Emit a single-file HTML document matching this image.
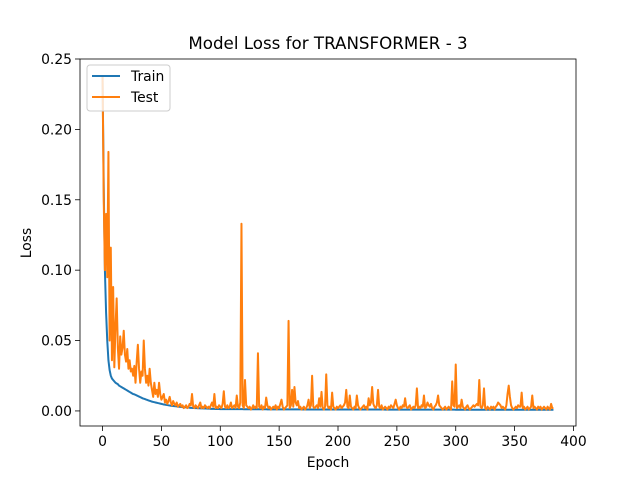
<!DOCTYPE html>
<html><head><meta charset="utf-8"><style>
body{margin:0;background:#fff;}
svg text{font-family:"DejaVu Sans","Liberation Sans",sans-serif;}
</style></head><body>
<svg id="chart" width="640" height="480" xmlns="http://www.w3.org/2000/svg"></svg>
<script>
const xTicks=[0,50,100,150,200,250,300,350,400];
const yTicks=[0.00,0.05,0.10,0.15,0.20,0.25];
const yTickLabels=["0.00","0.05","0.10","0.15","0.20","0.25"];
const trainLoss=[
.238,.16,.10,.07,.05,.036,.029,.025,.023,.022,
.021,.020,.0195,.019,.018,.0175,.017,.0165,.016,.0155,
.015,.0145,.014,.0135,.013,.0125,.012,.0118,.0114,.011,
.0106,.0102,.0098,.0094,.009,.0087,.0084,.0081,.0078,.0075,
.0072,.0069,.0066,.0064,.0062,.006,.0058,.0056,.0054,.0052,
.005,.0048,.0046,.0045,.0043,.0042,.004,.0039,.0037,.0036,
.0035,.0034,.0033,.0032,.0031,.003,.0029,.0028,.0027,.0026,
.0026,.0025,.0024,.0024,.0023,.0022,.0022,.0021,.0021,.002,
.002,.0019,.0019,.0018,.0018,.0018,.0017,.0017,.0017,.0016,
.0016,.0016,.0015,.0015,.0015,.0015,.0014,.0014,.0014,.0014,
.0013,.0013,.0013,.0013,.0013,.0013,.0013,.0013,.0013,.0013,.0013,.0013,.0013,.0013,.0013,.0013,.0013,.0013,.0013,.0013,
.0012,.0012,.0012,.0012,.0012,.0012,.0012,.0012,.0012,.0012,.0012,.0012,.0012,.0012,.0012,.0012,.0012,.0012,.0012,.0012,
.0011,.0011,.0011,.0011,.0011,.0011,.0011,.0011,.0011,.0011,.0011,.0011,.0011,.0011,.0011,.0011,.0011,.0011,.0011,.0011,
.0011,.0011,.0011,.0011,.0011,.0011,.0011,.0011,.0011,.0011,.001,.001,.001,.001,.001,.001,.001,.001,.001,.001,
.001,.001,.001,.001,.001,.001,.001,.001,.001,.001,.001,.001,.001,.001,.001,.001,.001,.001,.001,.001,
.001,.001,.001,.001,.001,.001,.001,.001,.001,.001,.001,.001,.001,.001,.001,.001,.001,.001,.001,.001,
.001,.001,.001,.001,.001,.001,.001,.001,.001,.001,.001,.001,.001,.001,.001,.001,.001,.001,.001,.001,
.0009,.0009,.0009,.0009,.0009,.0009,.0009,.0009,.0009,.0009,.0009,.0009,.0009,.0009,.0009,.0009,.0009,.0009,.0009,.0009,
.0009,.0009,.0009,.0009,.0009,.0009,.0009,.0009,.0009,.0009,.0009,.0009,.0009,.0009,.0009,.0009,.0009,.0009,.0009,.0009,
.0009,.0009,.0009,.0009,.0009,.0009,.0009,.0009,.0009,.0009,.0009,.0009,.0009,.0009,.0009,.0009,.0009,.0009,.0009,.0009,
.0008,.0008,.0008,.0008,.0008,.0008,.0008,.0008,.0008,.0008,.0008,.0008,.0008,.0008,.0008,.0008,.0008,.0008,.0008,.0008,
.0008,.0008,.0008,.0008,.0008,.0008,.0008,.0008,.0008,.0008,.0008,.0008,.0008,.0008,.0008,.0008,.0008,.0008,.0008,.0008,
.0008,.0008,.0008,.0008,.0008,.0008,.0008,.0008,.0008,.0008,.0008,.0008,.0008,.0008,.0008,.0008,.0008,.0008,.0008,.0008,
.0008,.0008,.0008,.0008,.0008,.0008,.0008,.0008,.0008,.0008,.0008,.0008,.0008,.0008,.0008,.0008,.0008,.0008,.0008,.0008,
.0008,.0008,.0008,.0008
];
const testLoss=[
.238,.15,.10,.14,.095,.184,.05,.116,.036,.088,
.031,.06,.080,.045,.03,.053,.04,.045,.057,.04,
.035,.044,.03,.036,.028,.03,.025,.032,.02,.035,
.047,.03,.02,.028,.025,.05,.03,.02,.025,.018,
.03,.02,.015,.01,.02,.012,.015,.01,.02,.012,
.008,.01,.012,.006,.008,.005,.007,.01,.006,.004,
.007,.005,.004,.006,.003,.004,.005,.003,.004,.002,
.003,.004,.002,.003,.005,.004,.012,.003,.002,.004,
.003,.002,.004,.006,.002,.003,.002,.004,.003,.002,
.003,.002,.004,.006,.003,.012,.002,.003,.002,.004,
.003,.002,.005,.014,.003,.002,.004,.002,.003,.006,
.002,.003,.004,.002,.011,.003,.002,.006,.133,.004,
.002,.022,.004,.003,.002,.003,.001,.002,.004,.002,
.003,.002,.041,.003,.002,.004,.001,.003,.002,.0095,
.004,.002,.003,.001,.002,.003,.002,.004,.001,.003,
.002,.005,.008,.003,.001,.002,.003,.004,.064,.002,
.004,.015,.003,.017,.006,.004,.007,.002,.003,.001,
.002,.003,.001,.002,.004,.008,.002,.004,.025,.003,
.002,.003,.004,.002,.009,.003,.0135,.002,.001,.003,
.026,.004,.002,.003,.001,.013,.003,.002,.001,.003,
.002,.003,.004,.002,.003,.004,.006,.015,.003,.002,
.011,.003,.002,.001,.003,.002,.011,.004,.002,.001,
.002,.003,.004,.002,.003,.001,.009,.004,.006,.017,
.005,.003,.002,.004,.015,.003,.002,.004,.001,.002,
.003,.002,.001,.003,.002,.004,.003,.002,.005,.008,
.004,.002,.001,.003,.002,.004,.003,.009,.003,.002,
.003,.004,.001,.002,.003,.002,.004,.016,.002,.003,
.002,.004,.003,.011,.002,.003,.006,.004,.003,.005,
.002,.001,.003,.004,.006,.011,.004,.003,.002,.001,
.002,.003,.001,.002,.003,.002,.001,.021,.004,.003,
.033,.002,.003,.004,.002,.008,.003,.002,.001,.003,
.004,.002,.001,.002,.003,.004,.003,.004,.005,.004,
.022,.003,.002,.004,.016,.002,.001,.003,.002,.001,
.003,.002,.003,.001,.003,.004,.006,.005,.004,.002,
.003,.002,.001,.004,.012,.018,.01,.004,.002,.001,
.002,.003,.002,.004,.003,.003,.013,.002,.003,.001,
.002,.003,.001,.002,.003,.011,.002,.003,.002,.001,
.003,.002,.003,.001,.002,.003,.002,.001,.003,.002,
.001,.005,.002,.002
];
const L=80,R=576,T=59,B=426;
const xMin=-19.15,xMax=402.15,yMin=-0.0107,yMax=0.25;
const sx=v=>L+(v-xMin)/(xMax-xMin)*(R-L);
const sy=v=>B-(v-yMin)/(yMax-yMin)*(B-T);
const svg=document.getElementById('chart');
const NS='http://www.w3.org/2000/svg';
function mk(tag,attrs,parent){const e=document.createElementNS(NS,tag);for(const k in attrs)e.setAttribute(k,attrs[k]);(parent||svg).appendChild(e);return e;}
function txt(s,attrs){const e=mk('text',attrs);e.textContent=s;return e;}
let t=txt('Model Loss for TRANSFORMER - 3',{x:328,y:49,'text-anchor':'middle','font-size':'16.7'});


xTicks.forEach(v=>{const x=sx(v);
 const l=mk('line',{x1:x,x2:x,y1:B,y2:B+5,stroke:'#000','stroke-width':0.8});
 
 
 const e=txt(String(v),{x:x,y:B+20,'text-anchor':'middle','font-size':'13.9'});
 
 
});
yTicks.forEach((v,i)=>{const y=sy(v);
 const l=mk('line',{x1:L-5,x2:L,y1:y,y2:y,stroke:'#000','stroke-width':0.8});
 
 
 const e=txt(yTickLabels[i],{x:L-8,y:y+5,'text-anchor':'end','font-size':'13.9'});
 
 
});
t=txt('Epoch',{x:328,y:467,'text-anchor':'middle','font-size':'13.9'});


t=txt('Loss',{x:31,y:243,'text-anchor':'middle','font-size':'13.9',transform:'rotate(-90 31 243)'});


function path(arr){return arr.map((v,i)=>(i?'L':'M')+sx(i).toFixed(2)+','+sy(v).toFixed(2)).join('');}
const clip=mk('clipPath',{id:'c'});mk('rect',{x:L,y:T,width:R-L,height:B-T},clip);
let p=mk('path',{d:path(trainLoss),fill:'none',stroke:'#1f77b4','stroke-width':2,'clip-path':'url(#c)'});


p=mk('path',{d:path(testLoss),fill:'none',stroke:'#ff7f0e','stroke-width':2,'clip-path':'url(#c)','stroke-linejoin':'round'});


const fr=mk('rect',{x:L,y:T,width:R-L,height:B-T,fill:'none',stroke:'#000','stroke-width':0.8});


const lg=mk('g',{});


mk('rect',{x:87,y:65,width:83,height:46,rx:3,fill:'#fff','fill-opacity':0.8,stroke:'#ccc','stroke-width':1},lg);
mk('line',{x1:92,x2:120,y1:76,y2:76,stroke:'#1f77b4','stroke-width':2},lg);
mk('line',{x1:92,x2:120,y1:97,y2:97,stroke:'#ff7f0e','stroke-width':2},lg);
let a=mk('text',{x:131,y:81,'font-size':'13.9'},lg);a.textContent='Train';


a=mk('text',{x:131,y:102,'font-size':'13.9'},lg);a.textContent='Test';


</script>
</body></html>
